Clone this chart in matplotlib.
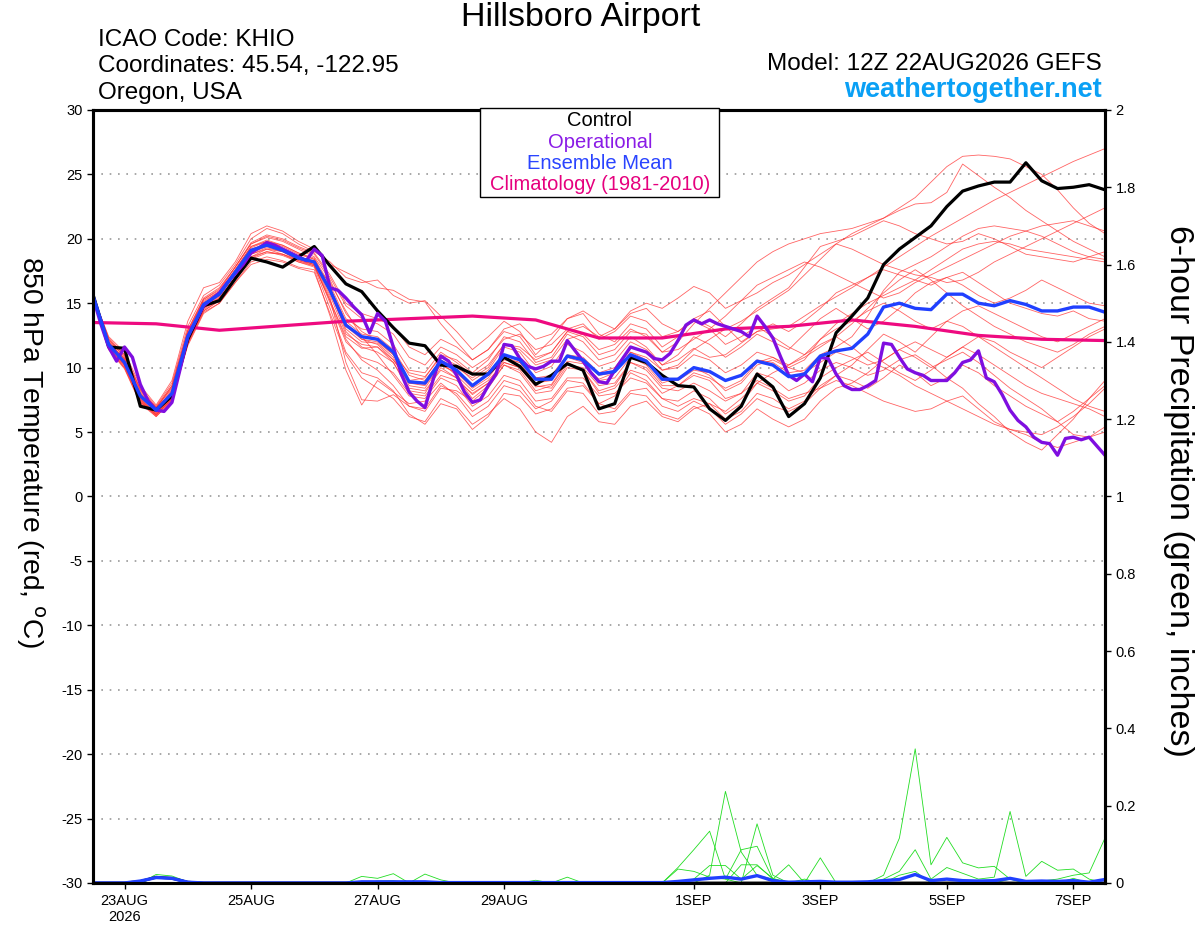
import matplotlib
matplotlib.use("Agg")
import matplotlib.pyplot as plt
from matplotlib.patches import Rectangle
import numpy as np
import pandas as pd

plt.rcParams['font.family'] = ['Liberation Sans', 'DejaVu Sans']
plt.rcParams['axes.unicode_minus'] = False

# 6-hourly GEFS steps from 12Z 22AUG2026, operational at 3-hourly, climatology daily
times = pd.date_range('2026-08-22 12:00', periods=65, freq='6h')
op_times = pd.date_range('2026-08-22 12:00', periods=129, freq='3h')
clim_times = pd.date_range('2026-08-22 12:00', periods=17, freq='24h')

control = [15.7, 11.6, 11.5, 7.0, 6.7, 7.8, 12.2, 14.8, 15.2, 16.9, 18.5, 18.2, 17.8, 18.6, 19.4,
           17.9, 16.5, 15.9, 14.4, 13.1, 11.9, 11.7, 10.2, 10.1, 9.5, 9.5, 10.8, 10.1, 8.7, 9.4,
           10.3, 9.8, 6.8, 7.2, 10.8, 10.4, 9.4, 8.6, 8.5, 6.8, 5.9, 7.0, 9.5, 8.5, 6.2,
           7.2, 9.2, 12.7, 14.0, 15.4, 18.0, 19.2, 20.1, 21.0, 22.5, 23.7, 24.1, 24.4, 24.4, 25.9,
           24.5, 23.9, 24.0, 24.2, 23.8]

ens_mean = [15.6, 11.8, 10.4, 7.8, 6.7, 8.0, 12.4, 14.9, 15.7, 17.4, 19.1, 19.5, 19.1, 18.5, 18.2,
            16.0, 13.3, 12.4, 12.2, 11.2, 8.9, 8.8, 10.5, 9.8, 8.6, 9.5, 11.0, 10.6, 9.1, 9.1,
            10.9, 10.6, 9.5, 9.7, 11.0, 10.5, 9.1, 9.1, 10.0, 9.7, 9.0, 9.4, 10.5, 10.2, 9.3,
            9.5, 10.9, 11.3, 11.5, 12.6, 14.7, 15.0, 14.6, 14.5, 15.7, 15.7, 15.0, 14.8, 15.2, 14.9,
            14.4, 14.4, 14.7, 14.7, 14.3]

operational = [15.5, 13.4, 11.6, 10.5, 11.6, 10.8, 8.7, 7.4, 6.7, 6.6, 7.3, 9.8, 12.4, 13.6, 14.8,
               15.3, 15.8, 16.6, 17.3, 18.0, 18.9, 19.3, 19.7, 19.5, 19.2, 18.9, 18.6, 18.3, 19.2, 18.7,
               16.2, 16.0, 15.4, 14.7, 14.1, 12.7, 14.2, 13.6, 11.6, 9.5, 8.1, 7.4, 6.9, 9.0, 10.9,
               10.5, 9.4, 8.1, 7.3, 7.5, 8.6, 9.5, 11.8, 11.7, 10.7, 10.1, 9.9, 10.1, 10.5, 10.5,
               12.1, 11.3, 10.5, 9.6, 8.9, 8.8, 9.8, 10.7, 11.6, 11.4, 11.2, 10.7, 10.6, 11.1, 12.1,
               13.3, 13.7, 13.4, 13.7, 13.4, 13.2, 13.0, 12.8, 12.4, 14.0, 13.2, 12.3, 10.8, 9.4, 9.0,
               9.5, 8.9, 10.8, 10.7, 9.5, 8.6, 8.3, 8.3, 8.6, 9.0, 11.9, 11.8, 10.8, 9.9, 9.6,
               9.4, 9.0, 9.0, 9.0, 9.6, 10.4, 10.6, 11.3, 9.2, 8.9, 7.9, 6.7, 5.9, 5.4, 4.6,
               4.2, 4.1, 3.2, 4.5, 4.6, 4.4, 4.6, 3.9, 3.2]

climatology = [13.5, 13.4, 12.9, 13.25, 13.6, 13.8, 14.0, 13.7, 12.3, 12.3, 13.0, 13.2, 13.7, 13.2,
               12.5, 12.2, 12.1]

ens_temp = [
    [15.5, 12.2, 10.8, 8.2, 6.9, 8.6, 12.9, 15.3, 16.0, 17.8, 19.6, 20.1, 19.8, 19.2, 18.6,
     16.8, 14.2, 12.8, 12.1, 11.0, 9.6, 9.3, 10.8, 10.2, 9.0,
     9.8, 11.6, 11.2, 9.6, 10.1, 11.8, 11.2, 10.1, 10.5, 12.0, 11.4, 10.2, 10.6, 11.5, 10.8, 11.0, 11.9, 12.8, 13.0,
     13.2, 14.0, 14.8, 15.5, 16.2, 17.0, 17.8, 18.6, 19.4, 20.2, 20.9, 21.6, 22.3, 23.0, 23.6, 24.2, 24.8, 25.4, 26.0, 26.5, 27.0],
    [15.8, 11.5, 10.2, 7.4, 6.4, 7.6, 12.0, 14.6, 15.4, 17.0, 18.8, 19.3, 19.0, 18.3, 17.9,
     15.2, 12.4, 11.5, 11.6, 10.4, 8.2, 8.0, 10.0, 9.2, 7.9,
     8.8, 10.4, 10.0, 8.5, 8.7, 10.5, 10.3, 9.1, 9.6, 11.2, 10.8, 9.8, 10.2, 11.4, 12.2, 13.0, 13.6, 14.4, 15.2,
     16.0, 17.2, 18.4, 19.6, 20.4, 21.0, 21.6, 22.4, 23.2, 24.4, 25.6, 26.4, 26.5, 26.4, 26.2, 25.6, 25.0, 23.8, 22.4, 21.2, 20.4],
    [15.4, 12.0, 10.6, 8.0, 6.6, 8.2, 12.6, 15.1, 15.9, 17.6, 19.4, 19.9, 19.5, 18.9, 18.5,
     16.4, 13.8, 13.0, 12.8, 11.8, 9.8, 9.6, 11.2, 10.4, 9.4,
     10.2, 11.8, 11.4, 10.2, 10.6, 12.2, 12.6, 11.4, 11.8, 13.0, 12.4, 11.2, 12.0, 13.4, 14.6, 15.8, 17.0, 18.2, 19.0,
     19.6, 20.0, 20.4, 20.6, 20.8, 21.2, 21.6, 22.2, 22.7, 22.8, 23.6, 25.8, 24.9, 24.0, 23.2, 22.2, 21.4, 20.6, 19.8, 19.2, 18.6],
    [15.7, 11.9, 10.3, 7.6, 6.5, 7.9, 12.2, 14.8, 15.6, 17.3, 19.0, 19.6, 19.2, 18.6, 18.3,
     15.8, 13.0, 12.0, 11.9, 10.8, 8.6, 8.4, 10.2, 9.6, 8.4,
     9.2, 10.8, 10.4, 8.8, 9.0, 10.8, 10.6, 9.4, 9.6, 11.2, 10.6, 9.0, 9.0, 9.8, 9.6, 9.0, 9.4, 10.6, 10.4,
     9.6, 9.8, 11.0, 11.6, 12.4, 14.0, 16.0, 17.4, 18.0, 18.6, 19.4, 20.2, 20.8, 21.0, 20.8, 20.6, 20.2, 19.6, 19.0, 18.6, 18.4],
    [15.6, 12.3, 11.0, 8.4, 7.0, 8.8, 13.2, 15.6, 16.4, 18.0, 20.0, 20.8, 20.4, 19.6, 19.0,
     18.2, 17.0, 16.6, 16.8, 15.6, 15.0, 15.2, 14.0, 12.8, 11.4,
     12.4, 13.6, 12.8, 11.0, 12.2, 13.8, 14.2, 12.6, 12.0, 13.4, 13.0, 11.6, 12.4, 13.8, 14.4, 13.2, 12.0, 12.8, 13.4,
     12.8, 13.6, 14.6, 15.8, 16.4, 17.0, 17.6, 17.2, 16.8, 16.4, 17.0, 17.4, 16.6, 15.8, 15.0, 14.6, 14.2, 14.0, 14.4, 13.8, 13.6],
    [15.5, 11.4, 9.9, 7.2, 6.2, 7.4, 11.8, 14.3, 15.0, 16.6, 18.2, 18.6, 18.3, 17.8, 17.6,
     14.0, 9.8, 7.1, 9.0, 8.1, 7.2, 7.4, 8.8, 7.8, 6.2,
     7.0, 8.6, 8.2, 6.8, 7.4, 9.0, 8.8, 7.2, 7.8, 9.6, 9.0, 7.6, 7.4, 8.2, 7.6, 6.4, 7.2, 8.8, 8.2,
     7.4, 7.8, 9.2, 10.0, 10.6, 11.2, 10.4, 9.6, 9.0, 9.8, 10.8, 11.6, 11.0, 10.2, 9.4, 8.6, 8.0, 7.6, 7.2, 6.8, 6.2],
    [15.8, 12.0, 10.2, 7.6, 6.3, 7.8, 12.0, 14.4, 15.2, 17.0, 18.6, 19.2, 19.0, 18.4, 18.0,
     15.4, 10.4, 7.5, 7.4, 7.9, 7.0, 6.6, 8.4, 8.2, 7.4,
     8.4, 10.2, 9.6, 8.0, 8.2, 10.0, 9.8, 8.2, 8.6, 10.4, 10.0, 8.6, 8.6, 9.6, 9.2, 8.4, 9.0, 10.4, 10.8,
     10.0, 10.6, 12.2, 13.0, 13.6, 14.4, 15.0, 14.4, 13.6, 13.0, 13.6, 14.4, 14.8, 14.2, 13.6, 13.0, 12.4, 12.0, 12.6, 13.2, 13.8],
    [15.6, 11.7, 10.5, 7.9, 6.8, 8.1, 12.5, 15.0, 15.8, 17.5, 19.2, 19.6, 19.2, 18.6, 18.2,
     16.2, 13.4, 12.2, 11.8, 10.6, 8.8, 8.7, 10.4, 9.4, 8.2,
     9.0, 10.4, 10.0, 8.6, 8.4, 10.2, 10.0, 8.6, 8.8, 10.4, 9.8, 8.4, 8.2, 8.8, 8.2, 7.4, 8.0, 9.0, 8.4,
     7.6, 8.0, 8.4, 9.0, 8.6, 8.0, 7.4, 7.0, 6.6, 6.8, 7.4, 7.8, 6.8, 5.8, 5.2, 4.8, 4.2, 3.8, 4.2, 4.6, 5.0],
    [15.5, 11.9, 10.7, 8.1, 6.9, 8.4, 12.8, 15.2, 15.9, 17.6, 19.4, 19.8, 19.4, 18.8, 18.4,
     16.0, 12.8, 11.6, 11.2, 10.4, 8.4, 8.2, 9.8, 9.2, 7.6,
     8.6, 10.2, 9.8, 8.2, 8.6, 10.4, 9.8, 8.0, 8.4, 9.8, 9.4, 8.0, 8.6, 9.4, 9.0, 7.6, 8.0, 9.6, 9.2,
     8.2, 8.8, 9.8, 10.4, 10.0, 9.4, 9.8, 10.6, 11.0, 10.2, 9.2, 8.4, 7.2, 6.2, 5.0, 4.2, 3.6, 4.8, 6.0, 7.6, 9.0],
    [15.7, 11.6, 10.1, 7.5, 6.5, 7.7, 12.1, 14.7, 15.5, 17.2, 18.9, 19.4, 19.0, 18.4, 18.1,
     15.6, 12.6, 11.8, 11.6, 10.6, 9.0, 9.2, 11.0, 10.6, 9.6,
     10.6, 12.4, 12.0, 10.4, 10.8, 12.6, 12.0, 10.6, 11.0, 12.4, 11.6, 10.2, 11.0, 12.4, 11.8, 10.8, 11.6, 12.6, 12.0,
     11.4, 12.6, 13.8, 14.6, 13.8, 13.0, 13.6, 14.6, 15.8, 16.6, 17.0, 16.4, 15.6, 15.0, 15.4, 16.0, 16.8, 16.2, 15.6, 15.0, 14.8],
    [15.4, 11.8, 10.4, 7.7, 6.6, 8.0, 12.3, 14.8, 15.6, 17.2, 18.8, 19.2, 18.8, 18.2, 17.8,
     14.6, 11.2, 9.6, 9.2, 8.2, 6.4, 5.6, 7.2, 6.8, 5.2,
     6.2, 8.0, 7.8, 6.4, 6.8, 8.4, 8.6, 7.2, 6.8, 8.2, 8.4, 7.0, 6.6, 7.4, 6.8, 5.6, 6.4, 7.6, 7.0,
     6.6, 7.2, 8.4, 9.4, 10.2, 11.4, 12.6, 12.0, 11.2, 12.4, 13.6, 13.2, 12.4, 11.6, 10.8, 10.0, 9.2, 8.4, 7.6, 7.0, 6.6],
    [15.6, 12.1, 10.9, 8.3, 6.8, 8.5, 12.7, 15.3, 16.1, 17.8, 19.6, 20.2, 19.9, 19.3, 18.8,
     17.0, 14.8, 13.8, 13.4, 12.6, 10.8, 10.2, 11.6, 11.0, 10.0,
     10.8, 12.2, 12.6, 11.4, 11.8, 13.0, 13.4, 12.2, 12.8, 14.0, 13.6, 12.4, 12.8, 13.8, 13.2, 12.4, 13.4, 14.6, 15.4,
     16.2, 17.8, 19.4, 19.8, 20.2, 20.8, 21.4, 21.0, 20.4, 20.0, 19.6, 19.8, 20.4, 20.0, 19.4, 18.8, 18.6, 18.4, 18.2, 18.6, 19.0],
    [15.7, 11.4, 10.0, 7.3, 6.4, 7.5, 11.9, 14.5, 15.3, 16.8, 18.4, 18.9, 18.8, 18.3, 18.0,
     16.6, 14.4, 12.4, 11.0, 9.4, 7.8, 7.6, 9.2, 8.6, 7.0,
     7.8, 9.4, 9.0, 7.4, 7.6, 9.2, 9.2, 7.8, 8.0, 9.2, 8.8, 7.6, 7.0, 7.6, 7.2, 6.0, 6.6, 8.0, 7.6,
     6.8, 7.4, 8.6, 9.4, 9.0, 8.4, 9.2, 10.2, 9.6, 8.6, 9.2, 10.2, 9.6, 8.6, 7.8, 7.0, 6.4, 5.8, 6.6, 7.6, 8.6],
    [15.6, 12.4, 11.2, 8.6, 7.1, 9.0, 13.6, 16.2, 16.6, 18.2, 20.4, 21.0, 20.6, 19.8, 19.2,
     18.0, 17.4, 16.8, 16.2, 16.0, 15.3, 15.1, 13.4, 12.0, 10.6,
     11.4, 12.8, 12.4, 10.8, 11.2, 12.8, 12.4, 11.0, 11.4, 12.8, 12.6, 11.2, 11.4, 12.2, 13.0, 14.0, 15.2, 15.8, 16.6,
     17.2, 18.0, 18.8, 19.6, 19.2, 18.6, 18.0, 17.6, 17.2, 17.0, 16.6, 16.8, 17.4, 18.2, 18.8, 19.4, 20.0, 20.6, 21.2, 21.8, 22.4],
    [15.5, 11.7, 10.3, 7.5, 6.3, 7.6, 12.2, 14.6, 15.4, 17.0, 18.6, 19.0, 18.8, 18.4, 18.0,
     15.0, 12.0, 10.8, 10.4, 9.6, 8.0, 7.8, 9.4, 9.0, 8.0,
     8.8, 10.6, 10.4, 9.2, 9.4, 11.0, 10.8, 9.6, 10.0, 11.6, 11.2, 9.8, 10.0, 11.0, 10.6, 9.6, 10.2, 11.2, 10.8,
     10.2, 10.8, 11.6, 12.4, 13.4, 14.6, 15.8, 16.8, 17.6, 16.8, 15.8, 14.8, 14.0, 13.2, 12.6, 12.0, 11.6, 11.2, 11.8, 12.6, 13.2],
    [15.6, 11.8, 10.6, 7.8, 6.6, 8.0, 12.4, 14.9, 15.6, 17.3, 19.0, 19.5, 19.2, 18.6, 18.2,
     15.9, 13.2, 12.2, 12.0, 11.0, 8.8, 8.6, 10.2, 9.6, 8.6,
     9.4, 11.0, 10.6, 9.2, 9.2, 10.8, 10.4, 9.0, 9.2, 10.8, 10.2, 8.8, 9.2, 10.0, 9.4, 8.2, 8.8, 10.2, 10.6,
     10.0, 9.6, 10.4, 11.2, 10.8, 10.2, 10.6, 11.4, 10.8, 10.0, 10.6, 11.2, 10.4, 9.4, 8.4, 7.6, 6.8, 5.8, 4.8, 4.6, 5.4],
    [15.6, 12.0, 10.7, 8.0, 6.7, 8.3, 12.6, 15.0, 15.8, 17.5, 19.3, 19.8, 19.5, 18.9, 18.4,
     16.2, 13.6, 12.6, 12.4, 11.4, 9.4, 9.0, 10.6, 10.0, 9.2,
     10.0, 11.8, 11.6, 10.6, 11.2, 12.8, 13.2, 12.4, 13.0, 14.4, 15.0, 14.6, 15.4, 16.3, 15.8, 14.6, 15.2, 16.4, 17.0,
     17.6, 18.2, 17.8, 17.2, 16.6, 16.0, 15.4, 15.8, 16.6, 17.2, 17.8, 18.4, 19.0, 19.6, 20.2, 20.6, 21.0, 21.2, 21.4, 21.0, 20.6],
    [15.5, 11.6, 10.2, 7.4, 6.2, 7.5, 11.7, 14.2, 15.0, 16.6, 18.0, 18.4, 18.2, 17.7, 17.4,
     14.2, 11.0, 9.2, 8.4, 7.6, 6.2, 5.8, 7.6, 7.0, 5.6,
     6.4, 7.6, 6.8, 5.0, 4.2, 6.2, 7.0, 5.8, 5.6, 7.0, 7.4, 6.2, 5.8, 6.8, 7.2, 6.6, 7.6, 8.8, 9.6,
     10.2, 11.0, 12.2, 13.4, 14.2, 15.0, 15.6, 16.2, 16.8, 17.6, 18.4, 19.2, 19.6, 19.8, 19.6, 19.2, 19.0, 18.8, 18.6, 18.4, 18.2],
    [15.7, 12.2, 11.0, 8.3, 6.9, 8.6, 12.9, 15.4, 16.2, 17.8, 19.7, 20.3, 20.0, 19.4, 18.9,
     17.2, 15.0, 14.2, 13.8, 13.2, 11.6, 11.0, 12.2, 11.6, 10.6,
     11.4, 13.0, 13.4, 12.2, 12.6, 13.8, 14.4, 13.6, 13.0, 14.2, 14.6, 13.4, 12.8, 13.6, 13.0, 11.8, 12.4, 13.2, 12.4,
     11.6, 11.0, 11.8, 12.4, 11.6, 10.6, 10.0, 9.4, 8.6, 8.0, 7.4, 6.8, 6.2, 5.6, 5.2, 5.0, 4.8, 5.4, 6.2, 7.2, 8.4],
    [15.6, 11.5, 10.0, 7.3, 6.3, 7.6, 11.9, 14.4, 15.2, 16.9, 18.5, 19.0, 18.7, 18.2, 17.9,
     15.2, 12.2, 10.6, 9.8, 8.6, 7.0, 6.8, 8.6, 8.0, 6.6,
     7.4, 9.0, 8.6, 7.0, 6.6, 8.2, 8.0, 6.4, 6.6, 8.0, 7.8, 6.4, 6.0, 7.0, 6.4, 5.0, 5.6, 6.8, 6.0,
     5.4, 6.0, 7.4, 8.4, 8.8, 9.6, 10.6, 11.4, 12.0, 11.4, 10.8, 11.6, 12.4, 12.0, 11.2, 10.6, 10.0, 10.8, 11.6, 12.4, 13.0],
]

# 6-hour precipitation (inches), only the non-zero steps of each member
ens_precip = [
    {37: 0.04, 38: 0.086, 39: 0.134, 40: 0.01, 42: 0.153, 43: 0.02},
    {39: 0.02, 40: 0.237, 41: 0.08, 42: 0.02, 43: 0.01},
    {37: 0.036, 38: 0.03, 39: 0.015, 40: 0.01, 41: 0.086, 42: 0.095, 43: 0.01},
    {41: 0.047, 42: 0.047, 43: 0.01, 44: 0.047, 46: 0.065},
    {50: 0.02, 51: 0.116, 52: 0.347, 53: 0.047, 54: 0.118, 55: 0.052, 56: 0.039, 57: 0.043, 58: 0.01},
    {50: 0.01, 51: 0.03, 52: 0.086, 53: 0.01, 54: 0.04, 55: 0.025, 56: 0.01, 57: 0.015, 58: 0.185,
     59: 0.017, 60: 0.056, 61: 0.033, 62: 0.036, 63: 0.01},
    {60: 0.005, 61: 0.01, 62: 0.02, 63: 0.026, 64: 0.116},
    {4: 0.022, 5: 0.018, 6: 0.003, 17: 0.017, 18: 0.012, 19: 0.024, 21: 0.023, 22: 0.008, 28: 0.007, 30: 0.015},
    {4: 0.015, 5: 0.012, 18: 0.005, 19: 0.006, 45: 0.01, 51: 0.02, 52: 0.03, 58: 0.01, 62: 0.012},
    {38: 0.01, 39: 0.045, 40: 0.045, 41: 0.01, 42: 0.045, 43: 0.012},
]

mean_precip = [0, 0, 0, 0.005, 0.014, 0.012, 0.002, 0, 0, 0, 0, 0, 0, 0, 0, 0, 0,
               0.003, 0.003, 0.003, 0.003, 0.003, 0.001, 0.001, 0.001, 0.001, 0.001, 0.001, 0.001,
               0.001, 0.001, 0.001, 0.001, 0.001, 0.001, 0.001, 0.001, 0.004, 0.008, 0.012, 0.015,
               0.01, 0.019, 0.006, 0.002, 0.003, 0.004, 0.002, 0.002, 0.003, 0.006, 0.009, 0.022,
               0.006, 0.01, 0.006, 0.005, 0.006, 0.012, 0.004, 0.005, 0.004, 0.006, 0.002, 0.009]

control_precip = {3: 0.004, 4: 0.015, 5: 0.012, 6: 0.002}

tick_dates = pd.to_datetime(['2026-08-23', '2026-08-25', '2026-08-27', '2026-08-29',
                             '2026-09-01', '2026-09-03', '2026-09-05', '2026-09-07'])
tick_labels = ['23AUG\n2026', '25AUG', '27AUG', '29AUG', '1SEP', '3SEP', '5SEP', '7SEP']

legend_labels = ['Control', 'Operational', 'Ensemble Mean', 'Climatology (1981-2010)']
legend_colors = ['black', '#8a1be6', '#2a44ff', '#e6007e']


def expand(d):
    arr = np.zeros(len(times))
    for k, v in d.items():
        arr[k] = v
    return arr


W, H = 1200, 927
fig = plt.figure(figsize=(W / 100, H / 100), dpi=100)
ax = fig.add_axes([0.0774, 0.0475, 0.8434, 0.8339])
ax2 = ax.twinx()

for m in ens_temp:
    ax.plot(times, m, color='#ff3030', lw=0.6, alpha=0.75, zorder=2)
ax.plot(clim_times, climatology, color='#ee0a80', lw=2.3, zorder=3)
ax.plot(times, control, color='black', lw=2.3, zorder=4)
ax.plot(op_times, operational, color='#7f0ee0', lw=2.4, zorder=5)
ax.plot(times, ens_mean, color='#2040ff', lw=2.4, zorder=6)

for p in ens_precip:
    ax2.plot(times, expand(p), color='#22dd22', lw=0.6)
ax2.plot(times, expand(control_precip), color='black', lw=2.0)
ax2.plot(times, mean_precip, color='#2040ff', lw=2.4)

ax.set_ylim(-30, 30)
ax.set_yticks(np.arange(-30, 31, 5))
ax2.set_ylim(0, 2)
ax2.set_yticks(np.arange(0, 2.01, 0.2))
ax2.set_yticklabels(['0', '0.2', '0.4', '0.6', '0.8', '1', '1.2', '1.4', '1.6', '1.8', '2'])
ax.set_xlim(times[0], times[-1])
ax.set_xticks(tick_dates)
ax.set_xticklabels(tick_labels)

ax.yaxis.grid(True, linestyle=(0, (1, 4)), color='#999999', lw=1.2)
for a in (ax, ax2):
    for s in a.spines.values():
        s.set_linewidth(2.2)
    a.tick_params(labelsize=10.5, length=4, width=1, direction='out')
ax.tick_params(axis='x', pad=4)

# both axis titles read top to bottom
fig.text(0.025, 1 - 452 / H, '850 hPa Temperature (red, $^{\\rm o}$C)', fontsize=20.3,
         rotation=-90, ha='center', va='center')
fig.text(0.982, 1 - 491 / H, '6-hour Precipitation (green, inches)', fontsize=24.5,
         rotation=-90, ha='center', va='center')

# boxed legend, lines of text centred in the box
fig.patches.append(Rectangle((480 / W, 1 - 197 / H), 239 / W, 89 / H, transform=fig.transFigure,
                             facecolor='white', edgecolor='black', lw=1.0, zorder=10))
for k, (lab, col) in enumerate(zip(legend_labels, legend_colors)):
    fig.text(600 / W, 1 - (121 + 21.3 * k) / H, lab, color=col, fontsize=14.5,
             ha='center', va='center', zorder=11)

fig.text(0.484, 0.981, 'Hillsboro Airport', fontsize=24.5, ha='center', va='center')
fig.text(0.082, 0.957, 'ICAO Code: KHIO', fontsize=17.5, ha='left', va='center')
fig.text(0.082, 0.929, 'Coordinates: 45.54, -122.95', fontsize=17.5, ha='left', va='center')
fig.text(0.082, 0.900, 'Oregon, USA', fontsize=17.5, ha='left', va='center')
fig.text(0.918, 0.931, 'Model: 12Z 22AUG2026 GEFS', fontsize=17.5, ha='right', va='center')
fig.text(0.918, 0.903, 'weathertogether.net', fontsize=19.5, fontweight='bold', color='#0aa0f5',
         ha='right', va='center')

fig.savefig('out.png', dpi=100)
